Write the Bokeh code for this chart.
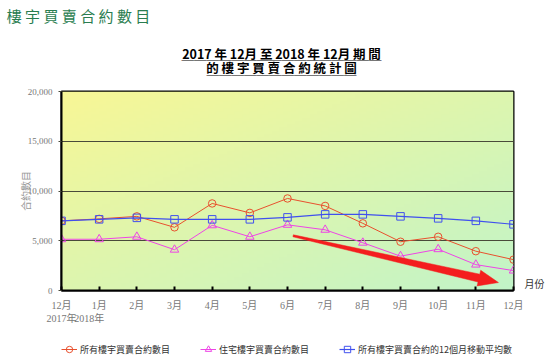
import numpy as np
from bokeh.plotting import figure
from bokeh.layouts import column
from bokeh.models import (Range1d, Legend, LegendItem, FixedTicker, LinearAxis,
                          NumeralTickFormatter)
from bokeh.embed import file_html
from bokeh.resources import INLINE

# ---------------- data ----------------
months = ["12月", "1月", "2月", "3月", "4月", "5月", "6月", "7月", "8月", "9月", "10月", "11月", "12月"]
years = {0: "2017年", 1: "2018年"}
all_deals = [7000, 7200, 7450, 6350, 8750, 7800, 9250, 8500, 6750, 4900, 5400, 3950, 3100]
res_deals = [5150, 5150, 5400, 4100, 6550, 5400, 6600, 6100, 4800, 3450, 4150, 2600, 2000]
ma12 = [7000, 7150, 7300, 7150, 7150, 7150, 7350, 7650, 7650, 7450, 7250, 7000, 6650]
y_ticks = [0, 5000, 10000, 15000, 20000]
series_names = ["所有樓宇買賣合約數目", "住宅樓宇買賣合約數目", "所有樓宇買賣合約的12個月移動平均數"]
page_title = "樓 宇 買 賣 合 約 數 目"
chart_title = ["2017 年 12月 至 2018 年 12月 期 間", "的 樓 宇 買 賣 合 約 統 計 圖"]
y_title = "合約數目"
x_title = "月份"
x = list(range(len(months)))

# ---------------- layout ----------------
W = 550
LEG_H = 22
FL, FR, FT = 61, 37, 91
FW, FH = W - FL - FR, 199
H = 358 - LEG_H
FB = H - FT - FH
XMAX, YMAX = len(months) - 1, 20000
px_x = FW / XMAX
px_y = FH / YMAX

p = figure(width=W, height=H, frame_width=FW, frame_height=FH,
           output_backend="svg", toolbar_location=None,
           x_range=Range1d(0, XMAX), y_range=Range1d(0, YMAX),
           min_border_left=FL, min_border_right=FR, min_border_top=FT, min_border_bottom=FB)
p.extra_x_ranges = {"px": Range1d(FL, W - FR)}
p.extra_y_ranges = {"py": Range1d(FT + FH, FT)}
p.border_fill_color = "white"
p.background_fill_color = "white"
p.outline_line_color = "black"
p.outline_line_width = 2

# gradient background
ny, nx = 60, 120
img = np.empty((ny, nx), dtype=np.uint32)
view = img.view(dtype=np.uint8).reshape((ny, nx, 4))
uu = np.linspace(0, 1, nx)[None, :]
vv = np.linspace(0, 1, ny)[:, None]
t = (uu + (1 - vv)) / 2
TL = np.array([248, 247, 150])
BR = np.array([194, 244, 200])
for c in range(3):
    view[:, :, c] = (TL[c] * (1 - t) + BR[c] * t).astype(np.uint8)
view[:, :, 3] = 255
p.image_rgba(image=[img], x=0, y=0, dw=XMAX, dh=YMAX, level="image")

# grid
p.xgrid.visible = False
p.ygrid.ticker = FixedTicker(ticks=y_ticks)
p.ygrid.grid_line_color = "#4a4a3a"
p.ygrid.grid_line_width = 1

# axes
lab_font = "'Liberation Serif', 'Noto Sans CJK TC'"
xlabels = {}
for i, m in enumerate(months):
    xlabels[i] = m
for i, yv in years.items():
    pad = "" if i == 0 else "\u3000\u3000"
    xlabels[i] = months[i] + "\n" + yv + pad
p.xaxis.ticker = FixedTicker(ticks=x)
p.xaxis.major_label_overrides = xlabels
p.xaxis.major_tick_in = 4
p.xaxis.major_tick_out = 0
p.xaxis.major_tick_line_color = "black"
p.xaxis.major_tick_line_width = 2
p.xaxis.minor_tick_line_color = None
p.xaxis.axis_line_color = "black"
p.xaxis.axis_line_width = 2
p.xaxis.major_label_text_font = lab_font
p.xaxis.major_label_text_font_size = "10px"
p.xaxis.major_label_text_color = "#777777"
p.xaxis.major_label_standoff = 9

p.yaxis.ticker = FixedTicker(ticks=y_ticks)
p.yaxis.formatter = NumeralTickFormatter(format="0,0")
p.yaxis.major_tick_in = 0
p.yaxis.major_tick_out = 3
p.yaxis.major_tick_line_color = "#4a4a3a"
p.yaxis.minor_tick_line_color = None
p.yaxis.axis_line_color = "black"
p.yaxis.axis_line_width = 2
p.yaxis.major_label_text_font = lab_font
p.yaxis.major_label_text_font_size = "9px"
p.yaxis.major_label_text_color = "#777777"
p.yaxis.major_label_standoff = 6
p.yaxis.axis_label = y_title
p.yaxis.axis_label_text_font = "Noto Sans CJK TC"
p.yaxis.axis_label_text_font_size = "10px"
p.yaxis.axis_label_text_font_style = "normal"
p.yaxis.axis_label_text_color = "#999999"
p.yaxis.axis_label_standoff = -8


def text_axis(pos, text, side, font, size, color, style, standoff, line_height=1.0):
    kw = dict(x_range_name="px") if side in ("above", "below") else dict(y_range_name="py")
    ax = LinearAxis(ticker=FixedTicker(ticks=[pos]), major_label_overrides={pos: text},
                    axis_line_color=None, major_tick_line_color=None,
                    minor_tick_line_color=None, major_tick_in=0, major_tick_out=0,
                    major_label_standoff=standoff, major_label_text_font=font,
                    major_label_text_font_size=size, major_label_text_color=color,
                    major_label_text_font_style=style,
                    major_label_text_line_height=line_height, **kw)
    p.add_layout(ax, side)
    return ax


# chart title block (with underlines), then page title above it
block = "\n".join([chart_title[0], "\u2500" * 16, chart_title[1], "\u2500" * 12])
text_axis(281, block, "above", "Noto Sans CJK TC", "12.5px", "black", "bold", 7, 0.37)
text_axis(78, page_title, "above", "Noto Sans CJK TC", "15px", "#2a7d50", "normal", 16)
# x axis title at the right end
text_axis(283, x_title, "right", "Noto Sans CJK TC", "10px", "#333333", "normal", 11)

# series
RED, PINK, BLUE = "#e8502e", "#ee44e6", "#4050ee"
styles = [(RED, "circle", 7.5, 1.0), (PINK, "triangle", 8.5, 1.0), (BLUE, "square", 7.5, 1.2)]
series = [all_deals, res_deals, ma12]
for vals, (col, mk, sz, lw) in zip(series, styles):
    p.line(x, vals, line_color=col, line_width=lw)
    p.scatter(x, vals, marker=mk, size=sz, fill_color=None, line_color=col)

# red trend arrow (annotation)
arrow_start = (6.15, 5500)
arrow_end = (11.6, 800)
S = np.array([arrow_start[0] * px_x, arrow_start[1] * px_y])
T = np.array([arrow_end[0] * px_x, arrow_end[1] * px_y])
d = T - S
u = d / np.linalg.norm(d)
n = np.array([-u[1], u[0]])
hl, hw, w0, w1 = 20, 8, 1.0, 4.0
B = T - u * hl
pts = [S + n * w0, B + n * w1, B + n * hw, T, B - n * hw, B - n * w1, S - n * w0]
p.patch([q[0] / px_x for q in pts], [q[1] / px_y for q in pts],
        fill_color="#f41e1e", line_color="#f41e1e", line_width=0.5)

# ---------------- legend strip (separate small figure below) ----------------
# the series are drawn here too, but outside this strip's ranges, so that only
# their legend swatches show
pl = figure(width=W, height=LEG_H, output_backend="svg", toolbar_location=None,
            x_range=Range1d(0, 1), y_range=Range1d(0, 1),
            x_axis_type=None, y_axis_type=None, min_border=0,
            min_border_left=0, min_border_right=0, min_border_top=0, min_border_bottom=0)
pl.grid.visible = False
pl.outline_line_color = None
pl.border_fill_color = "white"
pl.background_fill_color = "white"
items = []
for name, vals, (col, mk, sz, lw) in zip(series_names, series, styles):
    rl = pl.line(x, vals, line_color=col, line_width=lw)
    rs = pl.scatter(x, vals, marker=mk, size=sz, fill_color=None, line_color=col)
    items.append(LegendItem(label=name, renderers=[rl, rs]))
legend = Legend(items=items, orientation="horizontal", location=(0, 1),
                padding=0, margin=0, spacing=30, label_standoff=3,
                glyph_width=16, glyph_height=16, label_height=16,
                label_text_font="Noto Sans CJK TC", label_text_font_size="9px",
                label_text_color="#333333",
                border_line_color=None, background_fill_alpha=0)
pl.add_layout(legend)

layout = column(p, pl, spacing=0)
open("out.html", "w").write(file_html(layout, INLINE))
